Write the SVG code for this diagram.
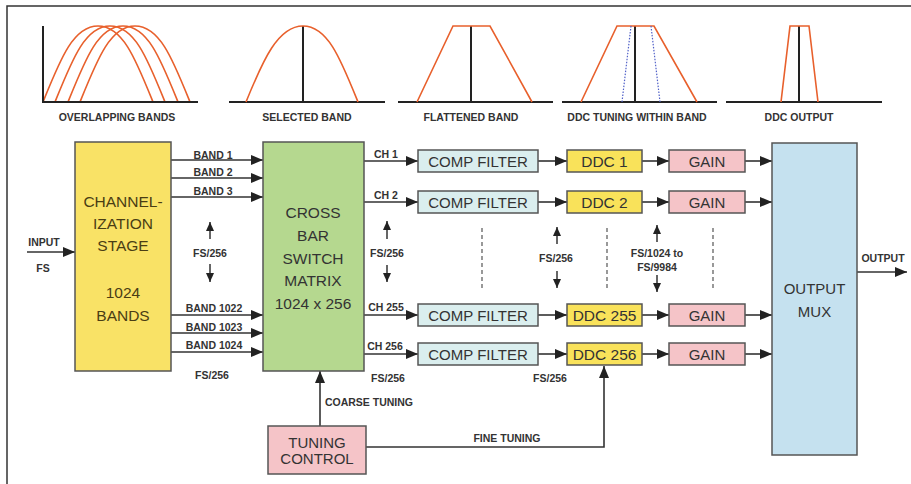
<svg xmlns="http://www.w3.org/2000/svg" width="911" height="484" viewBox="0 0 911 484">
<style>
.sm{font-family:"Liberation Sans",Arial,sans-serif;font-weight:bold;font-size:10.5px;fill:#333;text-anchor:middle}
.bx{font-family:"Liberation Sans",Arial,sans-serif;font-size:15px;fill:#333;text-anchor:middle}
.big{font-family:"Liberation Sans",Arial,sans-serif;font-size:15.5px;text-anchor:middle}
.box{stroke:#555;stroke-width:1.5}
.ln{stroke:#333;stroke-width:1.5;fill:none}
.arr{stroke:#333;stroke-width:1.6;fill:none;marker-end:url(#ah)}
.dbl{stroke:#333;stroke-width:1.5;fill:none;marker-end:url(#sh)}
.dash{stroke:#555;stroke-width:1.2;stroke-dasharray:4 3;fill:none}
.axis{stroke:#222;stroke-width:2;fill:none}
.curve{stroke:#e8602c;stroke-width:1.6;fill:none}
.blue{stroke:#5060c8;stroke-width:1.2;stroke-dasharray:1.5 1.5;fill:none}
</style>
<defs>
<marker id="ah" markerUnits="userSpaceOnUse" markerWidth="13" markerHeight="11" refX="12" refY="5" orient="auto"><path d="M0,0 L12,5 L0,10 z" fill="#222"/></marker>
<marker id="sh" markerUnits="userSpaceOnUse" markerWidth="10" markerHeight="9" refX="9" refY="4" orient="auto"><path d="M0,0 L9,4 L0,8 z" fill="#222"/></marker>
</defs>
<rect width="911" height="484" fill="#fff"/>
<g id="frame"><path d="M7,484 L7,6 L911,6" class="ln"/></g>

<g id="plots">
<g id="plot-overlapping">
<path class="curve" d="M43,102 C60,60 73,26 98,26 C123,26 136,60 153,102"/>
<path class="curve" d="M55,102 C72,60 85,26 110,26 C135,26 148,60 165,102"/>
<path class="curve" d="M68,102 C85,60 98,26 123,26 C148,26 161,60 178,102"/>
<path class="curve" d="M80,102 C97,60 110,26 135,26 C160,26 173,60 190,102"/>
<path class="axis" d="M43,26 L43,102 L198,102"/>
<text class="sm" x="117" y="120.5">OVERLAPPING BANDS</text>
</g>
<g id="plot-selected">
<path class="axis" d="M229,102 L385,102 M303,26 L303,102"/>
<path class="curve" d="M246,102 C263,60 278,26 303,26 C328,26 341,60 358,102"/>
<text class="sm" x="307" y="120.5">SELECTED BAND</text>
</g>
<g id="plot-flattened">
<path class="axis" d="M398,102 L553,102 M471,26 L471,102"/>
<path class="curve" d="M417,102 L453,26 L490,26 L532,102"/>
<text class="sm" x="471" y="120.5">FLATTENED BAND</text>
</g>
<g id="plot-tuning">
<path class="axis" d="M562,102 L717,102 M635,26 L635,102"/>
<path class="curve" d="M581,102 L617,26 L654,26 L697,102"/>
<path class="blue" d="M631,26 L622,102 M651,26 L660,102"/>
<text class="sm" x="637" y="120.5">DDC TUNING WITHIN BAND</text>
</g>
<g id="plot-output">
<path class="axis" d="M726,102 L882,102 M799,26 L799,102"/>
<path class="curve" d="M781,102 L790,26 L809,26 L818,102"/>
<text class="sm" x="799" y="120.5">DDC OUTPUT</text>
</g>
</g>

<g id="connectors">
<path class="arr" d="M27,252 L75,252"/>
<path class="arr" d="M171,160 L263,160"/>
<path class="arr" d="M171,178 L263,178"/>
<path class="arr" d="M171,197 L263,197"/>
<path class="arr" d="M171,315 L263,315"/>
<path class="arr" d="M171,333 L263,333"/>
<path class="arr" d="M171,352 L263,352"/>
<path class="arr" d="M364,161 L418,161"/>
<path class="arr" d="M364,202 L418,202"/>
<path class="arr" d="M364,315 L418,315"/>
<path class="arr" d="M364,354 L418,354"/>
<path class="arr" d="M538,161 L567,161"/>
<path class="arr" d="M538,202 L567,202"/>
<path class="arr" d="M538,315 L567,315"/>
<path class="arr" d="M538,354 L567,354"/>
<path class="arr" d="M642,161 L669,161"/>
<path class="arr" d="M642,202 L669,202"/>
<path class="arr" d="M642,315 L669,315"/>
<path class="arr" d="M642,354 L669,354"/>
<path class="arr" d="M745,161 L772,161"/>
<path class="arr" d="M745,202 L772,202"/>
<path class="arr" d="M745,315 L772,315"/>
<path class="arr" d="M745,354 L772,354"/>
<path class="arr" d="M857,272 L907,272"/>
<path class="arr" d="M320,426 L320,371"/>
<path class="arr" d="M366,447 L604,447 L604,366"/>
<path class="dbl" d="M210,239 L210,222"/><path class="dbl" d="M210,264 L210,282"/>
<path class="dbl" d="M387,239 L387,221"/><path class="dbl" d="M387,265 L387,282"/>
<path class="dbl" d="M557,244 L557,227"/><path class="dbl" d="M557,271 L557,288"/>
<path class="dbl" d="M657,242 L657,225"/><path class="dbl" d="M657,275 L657,292"/>
<path class="dash" d="M482,228 L482,290 M607,228 L607,290 M713,228 L713,290"/>
<text class="sm" x="44" y="245.5">INPUT</text>
<text class="sm" x="43" y="271.5">FS</text>
<text class="sm" x="213" y="158.5">BAND 1</text>
<text class="sm" x="213" y="175.5">BAND 2</text>
<text class="sm" x="213" y="194.5">BAND 3</text>
<text class="sm" x="210" y="256.5">FS/256</text>
<text class="sm" x="214" y="311.5">BAND 1022</text>
<text class="sm" x="214" y="330.5">BAND 1023</text>
<text class="sm" x="214" y="348.5">BAND 1024</text>
<text class="sm" x="212" y="378.5">FS/256</text>
<text class="sm" x="386" y="157.5">CH 1</text>
<text class="sm" x="386" y="198.5">CH 2</text>
<text class="sm" x="386" y="310.5">CH 255</text>
<text class="sm" x="385" y="349.5">CH 256</text>
<text class="sm" x="387" y="256.5">FS/256</text>
<text class="sm" x="388" y="381.5">FS/256</text>
<text class="sm" x="556" y="261.5">FS/256</text>
<text class="sm" x="657" y="256.5">FS/1024 to</text>
<text class="sm" x="657" y="270.5">FS/9984</text>
<text class="sm" x="550" y="381.5">FS/256</text>
<text class="sm" x="883" y="261.5">OUTPUT</text>
<text class="sm" x="369" y="405.5">COARSE TUNING</text>
<text class="sm" x="507" y="441.5">FINE TUNING</text>
</g>

<g id="channelization">
<rect class="box" x="75" y="142" width="96" height="229" fill="#f9e266"/>
<g class="big" fill="#4a3d14">
<text x="123" y="206.5">CHANNEL-</text>
<text x="123" y="228.5">IZATION</text>
<text x="123" y="250.5">STAGE</text>
<text x="123" y="297.5">1024</text>
<text x="123" y="320.5">BANDS</text>
</g>
</g>

<g id="crossbar">
<rect class="box" x="263" y="142" width="101" height="229" fill="#b5d88f"/>
<g class="big" fill="#333">
<text x="313" y="217.5">CROSS</text>
<text x="313" y="240.5">BAR</text>
<text x="313" y="263.5">SWITCH</text>
<text x="313" y="285.5">MATRIX</text>
<text x="313" y="308.5">1024 x 256</text>
</g>
</g>

<g id="comp1"><rect class="box" x="418" y="150" width="120" height="22" fill="#daeeee"/><text class="bx" x="478" y="166.5">COMP FILTER</text></g>
<g id="comp2"><rect class="box" x="418" y="191" width="120" height="22" fill="#daeeee"/><text class="bx" x="478" y="207.5">COMP FILTER</text></g>
<g id="comp255"><rect class="box" x="418" y="304" width="120" height="22" fill="#daeeee"/><text class="bx" x="478" y="320.5">COMP FILTER</text></g>
<g id="comp256"><rect class="box" x="418" y="343" width="120" height="22" fill="#daeeee"/><text class="bx" x="478" y="359.5">COMP FILTER</text></g>

<g id="ddc1"><rect class="box" x="567" y="150" width="75" height="22" fill="#f9e25a"/><text class="big" fill="#333" x="604.5" y="166.5">DDC 1</text></g>
<g id="ddc2"><rect class="box" x="567" y="191" width="75" height="22" fill="#f9e25a"/><text class="big" fill="#333" x="604.5" y="207.5">DDC 2</text></g>
<g id="ddc255"><rect class="box" x="567" y="304" width="75" height="22" fill="#f9e25a"/><text class="big" fill="#333" x="604.5" y="320.5">DDC 255</text></g>
<g id="ddc256"><rect class="box" x="567" y="343" width="75" height="22" fill="#f9e25a"/><text class="big" fill="#333" x="604.5" y="359.5">DDC 256</text></g>

<g id="gain1"><rect class="box" x="669" y="150" width="76" height="22" fill="#f5c4c8"/><text class="bx" x="707" y="166.5">GAIN</text></g>
<g id="gain2"><rect class="box" x="669" y="191" width="76" height="22" fill="#f5c4c8"/><text class="bx" x="707" y="207.5">GAIN</text></g>
<g id="gain255"><rect class="box" x="669" y="304" width="76" height="22" fill="#f5c4c8"/><text class="bx" x="707" y="320.5">GAIN</text></g>
<g id="gain256"><rect class="box" x="669" y="343" width="76" height="22" fill="#f5c4c8"/><text class="bx" x="707" y="359.5">GAIN</text></g>

<g id="outputmux">
<rect class="box" x="772" y="143" width="85" height="312" fill="#c5e1ef"/>
<text class="bx" x="814.5" y="293.5">OUTPUT</text>
<text class="bx" x="814.5" y="316.5">MUX</text>
</g>

<g id="tuningcontrol">
<rect class="box" x="268" y="426" width="98" height="48" fill="#f5c4c8"/>
<text class="bx" x="317" y="447.5">TUNING</text>
<text class="bx" x="317" y="463.5">CONTROL</text>
</g>
</svg>
